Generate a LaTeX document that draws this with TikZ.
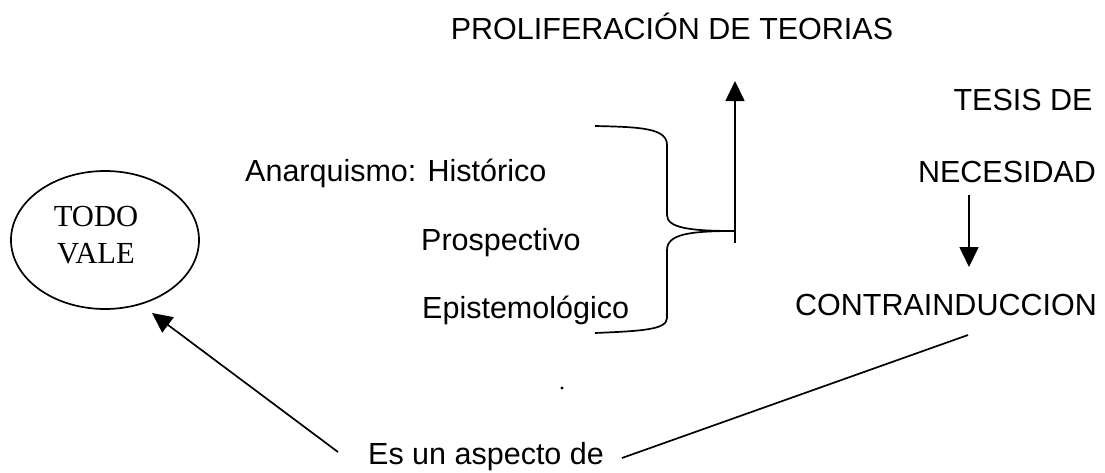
\documentclass[tikz,border=0pt]{standalone}
\usepackage{fontspec}
\setmainfont{Liberation Sans}
\newfontfamily\serifft{Liberation Serif}
\usetikzlibrary{arrows.meta,shapes.geometric,calc}
\begin{document}
\begin{tikzpicture}[x=1pt,y=-1pt,
  txt/.style={inner sep=0pt, font=\fontsize{30.5}{36}\selectfont},
  ln/.style={line width=1.7pt},
  arr/.style={ln, -{Triangle[length=20pt,width=19pt]}}]
\useasboundingbox (0,0) rectangle (1105,472);
\node[txt, anchor=base] (prolif) at (672,39) {PROLIFERACIÓN DE TEORIAS};
\node[txt, anchor=base] (tesis) at (1023,110) {TESIS DE};
\node[txt, anchor=base] (nec) at (1007,182) {NECESIDAD};
\node[txt, anchor=base] (contra) at (946,315) {CONTRAINDUCCION};
\node[txt, anchor=base west] (anar) at (245,181) {Anarquismo: Histórico};
\node[txt, anchor=base west] (prosp) at (421,250) {Prospectivo};
\node[txt, anchor=base west] (epis) at (422,318) {Epistemológico};
\node[txt, anchor=base west] (es) at (368,464) {Es un aspecto de};
\node[draw, ln, ellipse, minimum width=188pt, minimum height=138pt, inner sep=0pt] (todo) at (105,240) {};
\node[inner sep=0pt, align=center, font=\serifft\fontsize{30.6}{37}\selectfont] (todotxt) at (96,235.5) {TODO\\VALE};
% brace
\draw[ln] (595,126) .. controls (640,127) and (667,128) .. (667,145) -- (667,215)
  .. controls (667,228) and (690,231) .. (735,231)
  .. controls (690,231) and (667,234) .. (667,250) -- (667,318)
  .. controls (667,330) and (640,331) .. (595,333);
\coordinate (stembot) at (735,243);
\coordinate (stemtop) at (735,81);
\draw[arr] (stembot) -- (stemtop);
\draw[arr] ([xshift=-38pt,yshift=-13pt]nec.base) -- ([xshift=23pt,yshift=48pt]contra.base);
\draw[arr] ([xshift=-30pt,yshift=12pt]es.base west) -- ($(todo.center)+(47,73)$);
\draw[ln] ([xshift=254pt,yshift=6pt]es.base west) -- ([xshift=22pt,yshift=-20pt]contra.base);
\fill (562,388) circle (1.6pt);
\end{tikzpicture}
\end{document}
